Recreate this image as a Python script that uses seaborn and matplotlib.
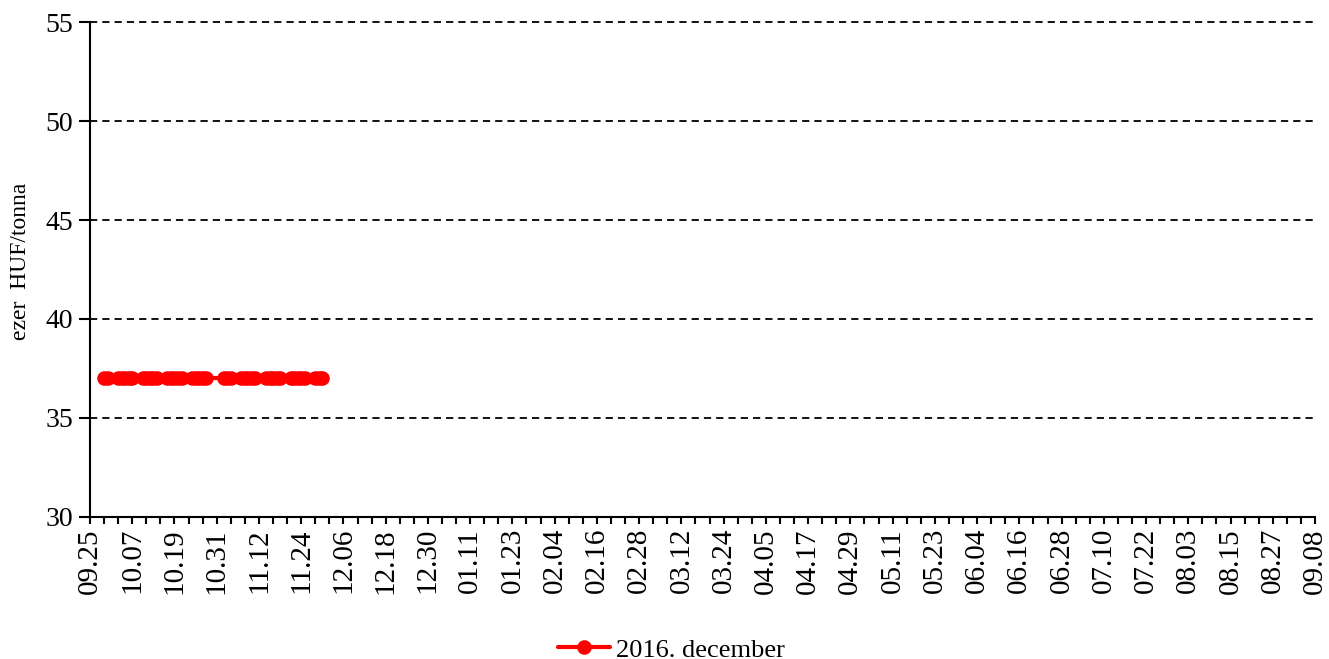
import pandas as pd
import numpy as np
import seaborn as sns
import matplotlib
matplotlib.use("Agg")
import matplotlib.pyplot as plt
import matplotlib.dates as mdates
from matplotlib.ticker import FixedLocator, FuncFormatter

dates = [
    "2016-09-29", "2016-09-30",
    "2016-10-03", "2016-10-04", "2016-10-05", "2016-10-06", "2016-10-07",
    "2016-10-10", "2016-10-11", "2016-10-12", "2016-10-13", "2016-10-14",
    "2016-10-17", "2016-10-18", "2016-10-19", "2016-10-20", "2016-10-21",
    "2016-10-24", "2016-10-25", "2016-10-26", "2016-10-27", "2016-10-28",
    "2016-11-02", "2016-11-03", "2016-11-04",
    "2016-11-07", "2016-11-08", "2016-11-09", "2016-11-10", "2016-11-11",
    "2016-11-14", "2016-11-15", "2016-11-16", "2016-11-17", "2016-11-18",
    "2016-11-21", "2016-11-22", "2016-11-23", "2016-11-24", "2016-11-25",
    "2016-11-28", "2016-11-29", "2016-11-30",
]
prices = [
    37.0, 37.0,
    37.0, 37.0, 37.0, 37.0, 37.0,
    37.0, 37.0, 37.0, 37.0, 37.0,
    37.0, 37.0, 37.0, 37.0, 37.0,
    37.0, 37.0, 37.0, 37.0, 37.0,
    37.0, 37.0, 37.0,
    37.0, 37.0, 37.0, 37.0, 37.0,
    37.0, 37.0, 37.0, 37.0, 37.0,
    37.0, 37.0, 37.0, 37.0, 37.0,
    37.0, 37.0, 37.0,
]
series_name = "2016. december"
axis_start = "2016-09-25"
axis_end = "2017-09-08"
y_ticks = [30, 35, 40, 45, 50, 55]

df = pd.DataFrame({"date": pd.to_datetime(dates), "price": prices, "series": series_name})

sns.set_style("white")
plt.rcParams["font.family"] = ["Liberation Serif", "DejaVu Serif"]
plt.rcParams["text.color"] = "black"
plt.rcParams["axes.labelcolor"] = "black"
plt.rcParams["xtick.color"] = "black"
plt.rcParams["ytick.color"] = "black"

fig, ax = plt.subplots(figsize=(13.29, 6.59), dpi=100)
fig.subplots_adjust(left=0.0677, right=0.9895, top=0.9666, bottom=0.2155)

sns.lineplot(data=df, x="date", y="price", hue="series", palette=["#ff0000"],
             marker="o", markersize=10.5, markeredgewidth=0, linewidth=3,
             ax=ax, legend=False)

start = pd.Timestamp(axis_start)
end = pd.Timestamp(axis_end)
ax.set_xlim(mdates.date2num(start), mdates.date2num(end))
ax.set_ylim(30, 55)

major = pd.date_range(start, end, freq="12D")
minor = pd.date_range(start, end, freq="4D")
ax.xaxis.set_major_locator(FixedLocator(mdates.date2num(major)))
ax.xaxis.set_minor_locator(FixedLocator(mdates.date2num(minor)))
ax.xaxis.set_major_formatter(FuncFormatter(lambda v, p: mdates.num2date(v).strftime("%m.%d")))
ax.set_yticks(y_ticks)

ax.tick_params(axis="x", which="both", direction="out", length=5, width=1.5,
               bottom=True, labelsize=21, labelrotation=90, pad=3)
ax.tick_params(axis="y", direction="out", length=8, width=1.5, left=True,
               labelsize=20, pad=4)

for v in y_ticks[1:]:
    ax.axhline(v, color="black", linestyle=(0, (4, 2.8)), linewidth=1.3,
               zorder=0, clip_on=False)

for s in ["top", "right"]:
    ax.spines[s].set_visible(False)
for s in ["left", "bottom"]:
    ax.spines[s].set_color("black")
    ax.spines[s].set_linewidth(1.5)

ax.set_xlabel("")
ax.set_ylabel("ezer  HUF/tonna", fontsize=17)
ax.yaxis.set_label_coords(-0.048, 0.516)

handle = plt.Line2D([], [], color="#ff0000", linewidth=3, marker="o",
                    markersize=10.5, markeredgewidth=0)
fig.legend([handle], [series_name], loc="lower center", bbox_to_anchor=(0.505, -0.04),
           frameon=False, fontsize=19, handlelength=2.0, handletextpad=0.2)

fig.savefig("out.png", dpi=100)
